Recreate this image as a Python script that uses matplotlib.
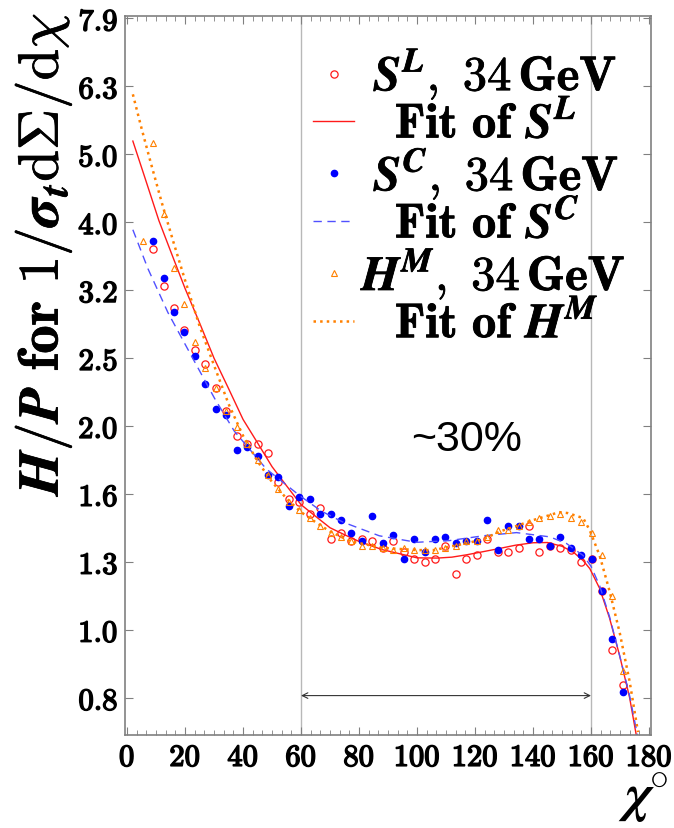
import numpy as np
import matplotlib
matplotlib.use('Agg')
import matplotlib.pyplot as plt
import matplotlib.patheffects as pe
from matplotlib.ticker import NullLocator, MultipleLocator

plt.rcParams['mathtext.fontset'] = 'cm'
plt.rcParams['font.family'] = 'DejaVu Serif'

# bin centres (degrees)
chi = [5.4, 9.0, 12.6, 16.2, 19.8, 23.4, 27.0, 30.6, 34.2, 37.8, 41.4, 45.0,
       48.6, 52.2, 55.8, 59.4, 63.0, 66.6, 70.2, 73.8, 77.4, 81.0, 84.6, 88.2,
       91.8, 95.4, 99.0, 102.6, 106.2, 109.8, 113.4, 117.0, 120.6, 124.2, 127.8,
       131.4, 135.0, 138.6, 142.2, 145.8, 149.4, 153.0, 156.6, 160.2, 163.8,
       167.4, 171.0]

# S^L, 34 GeV
s_l = [np.nan, 3.64, 3.21, 2.98, 2.76, 2.58, 2.46, 2.27, 2.10, 1.93, 1.88, 1.88,
       1.82, 1.65, 1.56, 1.54, 1.48, 1.51, 1.36, 1.39, 1.35, 1.36, 1.35, 1.32,
       1.35, 1.30, 1.27, 1.26, 1.27, 1.33, 1.21, 1.27, 1.29, 1.36, 1.30,
       1.30, 1.32, 1.42, 1.30, 1.33, 1.32, 1.31, 1.26, 1.27, 1.14,
       0.935, 0.83]

# S^C, 34 GeV
s_c = [np.nan, 3.73, 3.29, 2.94, 2.74, 2.53, 2.30, 2.11, 2.07, 1.84, 1.86, 1.80,
       1.69, 1.68, 1.52, 1.57, 1.56, 1.48, 1.48, 1.45, 1.39, 1.35, 1.47, 1.34,
       1.38, 1.27, 1.36, 1.30, 1.36, 1.37, 1.34, 1.35, 1.35, 1.45, 1.31,
       1.42, 1.42, 1.36, 1.36, 1.33, 1.37, 1.32, 1.29, 1.27, 1.14,
       0.97, 0.81]

# H^M, 34 GeV
h_m = [3.74, 5.21, 4.09, 3.41, 3.02, 2.65, 2.43, 2.27, 2.10, 1.99, 1.88, 1.78,
       1.69, 1.61, 1.54, 1.50, 1.46, 1.42, 1.39, 1.37, 1.35, 1.33, 1.33, 1.32,
       1.31, 1.32, 1.31, 1.31, 1.31, 1.32, 1.33, 1.35, 1.35, 1.37, 1.40,
       1.40, 1.42, 1.44, 1.46, 1.47, 1.48, 1.46, 1.44, 1.39, 1.29,
       1.12, 0.87]

# fitted curves
fit_l_x = [2, 6, 11, 15, 20, 25, 30, 35, 40, 45, 50, 55, 60, 65, 70, 75, 80,
           88, 100, 107, 112, 117, 122, 128, 134, 140, 145, 150, 154, 157.3,
           159.6, 163, 166.4, 169.9, 173.3, 175.6]
fit_l = [5.24, 4.65, 4.00, 3.61, 3.18, 2.83, 2.51, 2.265, 2.04, 1.884, 1.738,
         1.629, 1.528, 1.469, 1.413, 1.380, 1.349, 1.312, 1.276, 1.275, 1.279,
         1.289, 1.301, 1.316, 1.332, 1.343, 1.344, 1.327, 1.30, 1.264,
         1.23, 1.15, 1.04, 0.915, 0.795, 0.70]

fit_c_x = [2, 7.2, 14.1, 22.2, 30.2, 37, 48, 59.5, 67, 74.5, 87, 99.8, 111.3,
           122.8, 134.3, 145.8, 151.5, 157.3, 160, 163, 166.4, 169.9, 173.3, 176]
fit_c = [3.88, 3.40, 2.93, 2.53, 2.19, 1.96, 1.725, 1.576, 1.495, 1.44, 1.375,
         1.345, 1.353, 1.375, 1.39, 1.37, 1.34, 1.286, 1.24, 1.16, 1.045, 0.915,
         0.80, 0.70]

fit_m_x = [2, 5, 8, 12, 16, 20, 25, 30, 35, 40, 45, 50, 55, 60, 65, 70, 77, 88,
           100, 106, 111, 117, 123, 128.5, 134, 140, 145.8, 149, 152, 157.3,
           159.6, 163, 166.4, 169.9, 173.3, 176.2]
fit_m = [6.14, 5.47, 4.90, 4.25, 3.72, 3.27, 2.8, 2.45, 2.15, 1.93, 1.77, 1.65,
         1.56, 1.49, 1.44, 1.395, 1.35, 1.32, 1.31, 1.31, 1.325, 1.34, 1.36,
         1.395, 1.42, 1.45, 1.475, 1.49, 1.485, 1.46, 1.40, 1.285, 1.14, 0.99,
         0.84, 0.707]

xticks = [0, 20, 40, 60, 80, 100, 120, 140, 160, 180]
yticks = [0.794, 1.0, 1.259, 1.585, 1.995, 2.512, 3.162, 3.981, 5.012, 6.310, 7.943]
ylabels = ['0.8', '1.0', '1.3', '1.6', '2.0', '2.5', '3.2', '4.0', '5.0', '6.3', '7.9']

red = '#ff1a1a'
blue = '#0000ff'
orange = '#ff8000'

fig = plt.figure(figsize=(6.74, 8.29), dpi=100)
ax = fig.add_axes([0.1855, 0.1122, 0.780, 0.867])

ax.axvline(60, color='#b8b8b8', lw=1.0, zorder=0)
ax.axvline(160, color='#b8b8b8', lw=1.0, zorder=0)

# leading spaces mimic the centred legend text of the original
ax.plot(chi, s_l, 'o', mfc='none', mec=red, ms=5.2, mew=0.9,
        label=r'$\;\boldsymbol{S}^{\boldsymbol{L}}\mathbf{,\ 34\,GeV}$')
ax.plot(fit_l_x, fit_l, '-', color=red, lw=1.0,
        label=r'$\enspace\;\mathbf{Fit\ of\ }\boldsymbol{S}^{\boldsymbol{L}}$')
ax.plot(chi, s_c, 'o', color=blue, ms=4.5,
        label=r'$\;\boldsymbol{S}^{\boldsymbol{C}}\mathbf{,\ 34\,GeV}$')
ax.plot(fit_c_x, fit_c, '--', color='#5050ff', lw=1.0, dashes=(6, 4),
        label=r'$\enspace\;\mathbf{Fit\ of\ }\boldsymbol{S}^{\boldsymbol{C}}$')
ax.plot(chi, h_m, '^', mfc='none', mec=orange, ms=4.5, mew=0.8,
        label=r'$\boldsymbol{H}^{\boldsymbol{M}}\mathbf{,\ 34\,GeV}$')
ax.plot(fit_m_x, fit_m, ':', color=orange, lw=1.8,
        label=r'$\enspace\;\mathbf{Fit\ of\ }\boldsymbol{H}^{\boldsymbol{M}}$')

ax.annotate('', xy=(60, 0.80), xytext=(160, 0.80),
            arrowprops=dict(arrowstyle='<->', color='#333333', lw=0.8,
                            shrinkA=0, shrinkB=0))
ax.text(117, 1.91, '~30%', ha='center', va='center', fontsize=31,
        family='Liberation Sans')

ax.set_yscale('log')
ax.set_xlim(-0.7, 180.6)
ax.set_ylim(0.70, 8.0)
ax.set_yticks(yticks, [r'$\mathbf{%s}$' % s for s in ylabels])
ax.yaxis.set_minor_locator(NullLocator())
ax.set_xticks(xticks, [r'$\mathbf{%d}$' % v for v in xticks])
ax.xaxis.set_minor_locator(MultipleLocator(20 / 6))

ax.tick_params(which='both', direction='in', top=True, right=True,
               color='#808080')
ax.tick_params(which='major', length=6, width=0.8, labelsize=22, pad=5)
ax.tick_params(which='minor', length=3.5, width=0.6)
for s in ax.spines.values():
    s.set_color('#808080')
    s.set_linewidth(1.2)

bold = [pe.withStroke(linewidth=1.1, foreground='black')]
for t in ax.get_xticklabels() + ax.get_yticklabels():
    t.set_path_effects(bold)

# y label sits near the top, as in the original
fig.text(0.064, 0.985, r'$\boldsymbol{H/P}\ \mathbf{for}\ \mathbf{1/}\boldsymbol{\sigma}_{\boldsymbol{t}}'
         r'\mathrm{d}\Sigma/\mathrm{d}\chi$', fontsize=41, rotation=90,
         ha='center', va='top', path_effects=[pe.withStroke(linewidth=0.5, foreground='black')])
ax.set_xlabel(r'$\boldsymbol{\chi}^{\circ}$', fontsize=39)
ax.xaxis.set_label_coords(0.985, -0.05)

leg = ax.legend(loc='upper right', bbox_to_anchor=(0.954, 0.958), frameon=False,
                fontsize=35, handlelength=0.85, handletextpad=0.15,
                labelspacing=-0.03, borderaxespad=0, borderpad=0)
for t in leg.get_texts():
    t.set_path_effects([pe.withStroke(linewidth=0.6, foreground='black')])

fig.savefig('out.png', dpi=100)
